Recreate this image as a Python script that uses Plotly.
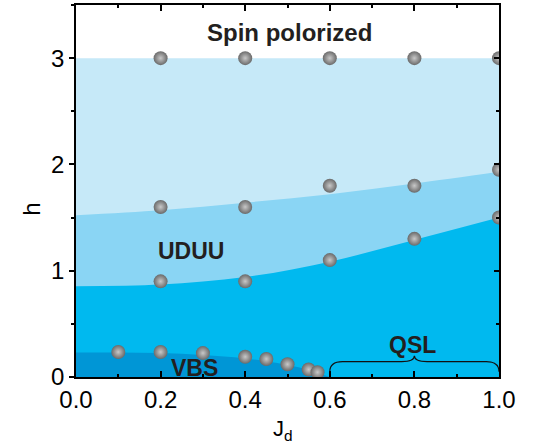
import plotly.graph_objects as go

# ---- data ----
# phase boundaries (J_d, h)
top_x = [0.0, 1.0]
top_h = [3.0, 3.0]
upper_x = [0.0, 0.2, 0.4, 0.6, 0.8, 1.0]
upper_h = [1.523, 1.57, 1.64, 1.72, 1.82, 1.93]
lower_x = [0.0, 0.2, 0.4, 0.6, 0.8, 1.0]
lower_h = [0.855, 0.87, 0.94, 1.085, 1.29, 1.5]
vbs_x = [0.0, 0.1, 0.2, 0.3, 0.4, 0.5, 0.55, 0.6]
vbs_h = [0.23, 0.23, 0.225, 0.207, 0.175, 0.113, 0.066, 0.0]

# computed points (spheres)
pts_x = [0.2, 0.4, 0.6, 0.8, 1.0,
         0.2, 0.4, 0.6, 0.8, 1.0,
         0.2, 0.4, 0.6, 0.8, 1.0,
         0.1, 0.2, 0.3, 0.4, 0.45, 0.5, 0.55, 0.571]
pts_h = [3.0, 3.0, 3.0, 3.0, 3.0,
         1.6, 1.6, 1.8, 1.8, 1.95,
         0.9, 0.9, 1.1, 1.3, 1.5,
         0.235, 0.235, 0.225, 0.19, 0.17, 0.12, 0.07, 0.045]

# labels
labels = ["Spin polorized", "UDUU", "VBS", "QSL"]
label_x = [0.504, 0.272, 0.279, 0.795]
label_h = [3.24, 1.19, 0.085, 0.30]
label_size = [24, 23, 23, 23]

# brace for QSL
brace_x0, brace_x1 = 0.6, 1.0
brace_low, brace_mid, brace_tip = 0.05, 0.145, 0.2

x_ticks = [0.0, 0.2, 0.4, 0.6, 0.8, 1.0]
y_ticks = [0, 1, 2, 3]

C_LIGHT = "#C6E9F8"
C_MID = "#8AD5F4"
C_STRONG = "#00B9EF"
C_DARK = "#0096D6"
FONT = "Arial, Liberation Sans, sans-serif"
TXT = "#231F20"

fig = go.Figure()
for xs, hs, col in [(top_x, top_h, C_LIGHT), (upper_x, upper_h, C_MID),
                    (lower_x, lower_h, C_STRONG), (vbs_x, vbs_h, C_DARK)]:
    fig.add_trace(go.Scatter(x=xs, y=hs, mode="lines", fill="tozeroy",
                             fillcolor=col, line=dict(color=col, width=0, shape="spline", smoothing=1.0),
                             hoverinfo="skip", showlegend=False))

fig.add_trace(go.Scatter(x=pts_x, y=pts_h, mode="markers", showlegend=False,
                         marker=dict(size=14, color="#6a6a6a",
                                     gradient=dict(type="radial", color="#c8c8c8"),
                                     line=dict(width=0))))

# invisible trace on right axis
fig.add_trace(go.Scatter(x=[0], y=[0], yaxis="y2", mode="markers",
                         marker=dict(opacity=0), showlegend=False, hoverinfo="skip"))

xm = (brace_x0 + brace_x1) / 2
r = 0.03
path = (f"M {brace_x0},{brace_low} Q {brace_x0},{brace_mid} {brace_x0 + r},{brace_mid} "
        f"L {xm - r},{brace_mid} Q {xm},{brace_mid} {xm},{brace_tip} "
        f"Q {xm},{brace_mid} {xm + r},{brace_mid} L {brace_x1 - r},{brace_mid} "
        f"Q {brace_x1},{brace_mid} {brace_x1},{brace_low}")
fig.add_shape(type="path", path=path, xref="x", yref="y",
              line=dict(color="#111", width=1.2))

for t, x, h, s in zip(labels, label_x, label_h, label_size):
    fig.add_annotation(x=x, y=h, xref="x", yref="y", text=f"<b>{t}</b>", showarrow=False,
                       font=dict(family=FONT, size=s, color=TXT))

fig.add_annotation(x=0.49, y=-0.10, xref="paper", yref="paper", yanchor="top",
                   text="J<sub>d</sub>", showarrow=False,
                   font=dict(family=FONT, size=22, color="black"))
fig.add_annotation(x=-0.141, y=0.452, xref="paper", yref="paper", textangle=-90,
                   text="h", showarrow=False,
                   font=dict(family=FONT, size=24, color="black"))

fig.update_layout(
    width=533, height=445,
    margin=dict(l=76, r=34, t=5, b=68, autoexpand=False),
    paper_bgcolor="white", plot_bgcolor="white",
    font=dict(family=FONT, size=24, color="black"),
    xaxis=dict(range=[0, 1], tickvals=x_ticks, tickformat=".1f",
               ticks="inside", ticklen=6, tickwidth=1.5, tickcolor="black",
               showline=True, linecolor="black", linewidth=1.5, mirror="ticks",
               showgrid=False, zeroline=False, automargin=False,
               minor=dict(dtick=0.1, ticks="inside", ticklen=3, tickwidth=1.5, tickcolor="black"),
               tickfont=dict(size=24)),
    yaxis=dict(range=[0, 3.5], tickvals=y_ticks,
               ticks="outside", ticklen=5, tickwidth=1.5, tickcolor="black",
               showline=True, linecolor="black", linewidth=1.5,
               showgrid=False, zeroline=False, automargin=False,
               minor=dict(dtick=0.5, ticks="outside", ticklen=3, tickwidth=1.5, tickcolor="black"),
               tickfont=dict(size=24)),
    yaxis2=dict(range=[0, 3.5], overlaying="y", side="right", tickvals=y_ticks,
                ticks="inside", ticklen=5, tickwidth=1.5, tickcolor="black",
                showline=True, linecolor="black", linewidth=1.5,
                showticklabels=False, showgrid=False, zeroline=False, automargin=False,
                minor=dict(dtick=0.5, ticks="inside", ticklen=3, tickwidth=1.5, tickcolor="black")),
)

fig.write_html("out.html", config={"displayModeBar": False},
               post_script="document.body.style.margin='0';document.body.style.overflow='hidden';")
